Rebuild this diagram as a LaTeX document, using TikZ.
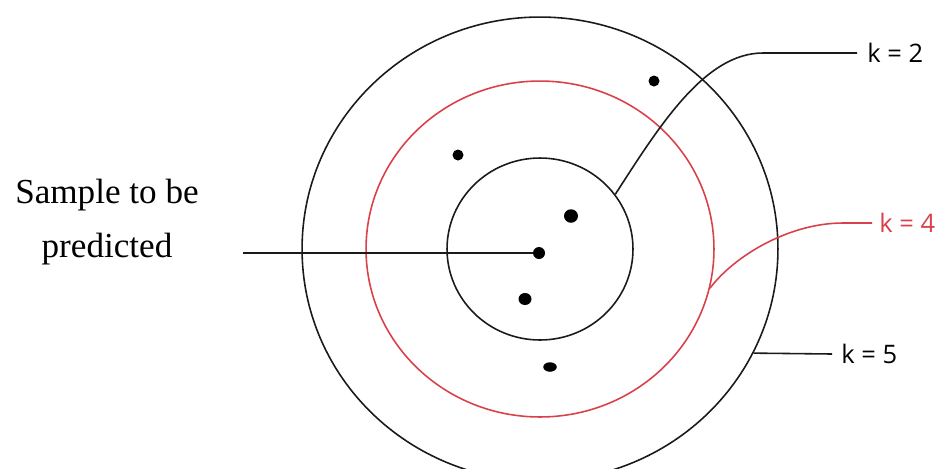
\documentclass[tikz,border=0pt]{standalone}
\usepackage{fontspec}
\setmainfont{Liberation Serif}
\newfontfamily\klabfont{Open Sans}
\usepackage{xcolor}
\usepackage{tikz}
\usetikzlibrary{shapes.geometric}
\definecolor{ringc}{HTML}{1A1A1A}
\definecolor{kred}{HTML}{D9404A}
\tikzset{
  ring/.style={draw=ringc,line width=0.9pt,ellipse,inner sep=0pt},
  pt/.style={fill=black,ellipse,inner sep=0pt},
  lead/.style={line width=0.9pt,ringc},
  klab/.style={font=\klabfont\fontsize{14.5}{17}\selectfont,anchor=west,inner sep=0pt}
}

\begin{document}
\begin{tikzpicture}[x=0.02cm,y=-0.02cm]
\useasboundingbox (0,0) rectangle (943,468);
\coordinate (C) at (540,249);
% the three neighbourhoods
\node[ring,minimum width=9.52cm,minimum height=9.28cm] (kfive) at (C) {};
\node[ring,draw=kred,minimum width=6.96cm,minimum height=6.72cm] (kfour) at (C) {};
\node[ring,minimum width=3.72cm,minimum height=3.64cm] (ktwo) at (C) {};
% training samples
\node[pt,minimum width=0.24cm,minimum height=0.24cm] (query) at (539,253) {};
\node[pt,minimum width=0.28cm,minimum height=0.27cm] (p1) at (571,216) {};
\node[pt,minimum width=0.26cm,minimum height=0.24cm] (p2) at (525,299) {};
\node[pt,minimum width=0.27cm,minimum height=0.19cm] (p3) at (550,367) {};
\node[pt,minimum width=0.22cm,minimum height=0.22cm] (p4) at (458,155) {};
\node[pt,minimum width=0.22cm,minimum height=0.22cm] (p5) at (654,81) {};
% labels
\node[font=\fontsize{20}{31}\selectfont,align=center] (sample) at (107,222) {Sample to be\\predicted};
\node[klab] (lab2) at (867,53) {k = 2};
\node[klab,text=kred] (lab4) at (879,223) {k = 4};
\node[klab] (lab5) at (841,354) {k = 5};
\coordinate (qline) at (243,253);
\coordinate (e2) at (857,53);
\coordinate (e4) at (872,223);
\coordinate (e5) at (832,354);
% leaders
\draw[lead] (qline) -- (query);
\draw[lead] (ktwo.36) .. controls (660,125) and (705,53) .. (763,53) -- (e2);
\draw[lead,kred] (kfour.-13) .. controls (735,255) and (790,223) .. (843,223) -- (e4);
\draw[lead] (kfive.-26.5) -- (e5);
\end{tikzpicture}
\end{document}
